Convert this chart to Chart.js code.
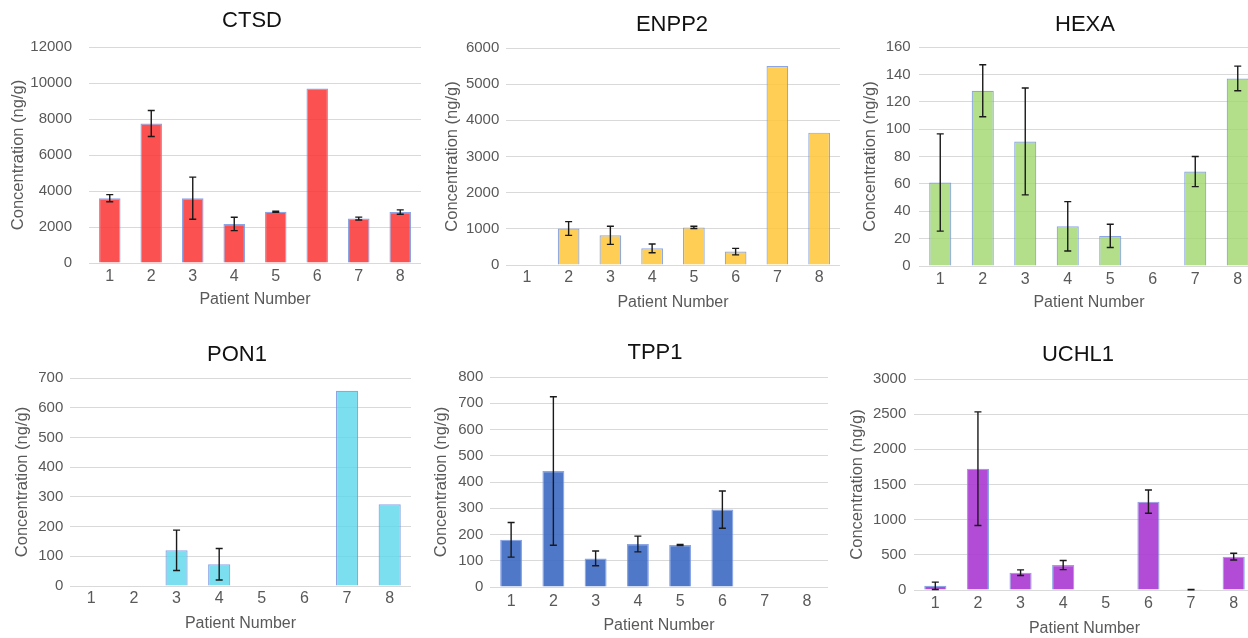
<!DOCTYPE html>
<html>
<head>
<meta charset="utf-8">
<title>Protein concentration by patient</title>
<script src="https://cdn.jsdelivr.net/npm/chart.js@4.4.1/dist/chart.umd.min.js"></script>
<style>
  html, body { margin: 0; padding: 0; background: #fff; }
  body { width: 1248px; height: 638px; position: relative; overflow: hidden; }
  canvas { position: absolute; }
</style>
</head>
<body>
<canvas id="ctsd"></canvas>
<canvas id="enpp2"></canvas>
<canvas id="hexa"></canvas>
<canvas id="pon1"></canvas>
<canvas id="tpp1"></canvas>
<canvas id="uchl1"></canvas>
<script>
'use strict';

// ***** DATA *****
let patients = ['1', '2', '3', '4', '5', '6', '7', '8'];

let ctsdValues = [3600, 7750, 3600, 2170, 2850, 9700, 2470, 2830];
let ctsdErrors = [200, 720, 1170, 370, 30, 0, 80, 120];

let enpp2Values = [null, 1010, 820, 460, 1040, 370, 5500, 3660];
let enpp2Errors = [0, 190, 250, 120, 30, 90, 0, 0];

let hexaValues = [61, 128, 91, 29, 22, null, 69, 137];
let hexaErrors = [35.5, 19, 39, 18, 8.5, 0, 11, 9];

let pon1Values = [null, null, 120, 73, null, null, 657, 275];
let pon1Errors = [0, 0, 68, 53, 0, 0, 0, 0];

let tpp1Values = [180, 442, 109, 164, 160, 295, null, null];
let tpp1Errors = [66, 283, 28, 30, 2, 71, 0, 0];

let uchl1Values = [60, 1725, 246, 355, null, 1256, 5, 474];
let uchl1Errors = [52, 808, 40, 65, 0, 165, 3, 48];

// y axis ranges: [max, step]
let ctsdAxis = [12000, 2000];
let enpp2Axis = [6000, 1000];
let hexaAxis = [160, 20];
let pon1Axis = [700, 100];
let tpp1Axis = [800, 100];
let uchl1Axis = [3000, 500];

// ***** PANEL LAYOUT (page pixels) *****
let layouts = {
  ctsd:  { left: 0,   top: 0,   right: 421,  bottom: 320, plotLeft: 89,  plotTop: 47,  plotBottom: 263, yTitleX: 18.5,  xTitleY: 300,   titleX: 252,  titleY: 21,  yGap: 17,  xTickY: 276.7 },
  enpp2: { left: 430, top: 0,   right: 840,  bottom: 320, plotLeft: 506, plotTop: 48,  plotBottom: 265, yTitleX: 452.8, xTitleY: 302.3, titleX: 672,  titleY: 25,  yGap: 6.7, xTickY: 277.3 },
  hexa:  { left: 845, top: 0,   right: 1259, bottom: 320, plotLeft: 919, plotTop: 47,  plotBottom: 266, yTitleX: 870.8, xTitleY: 302.3, titleX: 1085, titleY: 25,  yGap: 8.3, xTickY: 280 },
  pon1:  { left: 0,   top: 320, right: 411,  bottom: 640, plotLeft: 70,  plotTop: 378, plotBottom: 586, yTitleX: 22.5,  xTitleY: 624,   titleX: 237,  titleY: 355, yGap: 6.7, xTickY: 598.3 },
  tpp1:  { left: 425, top: 320, right: 828,  bottom: 640, plotLeft: 490, plotTop: 377, plotBottom: 587, yTitleX: 441.3, xTitleY: 626,   titleX: 655,  titleY: 353, yGap: 6.7, xTickY: 601.7 },
  uchl1: { left: 840, top: 320, right: 1255, bottom: 640, plotLeft: 914, plotTop: 379, plotBottom: 590, yTitleX: 857.8, xTitleY: 628.3, titleX: 1078, titleY: 355, yGap: 7.7, xTickY: 604 }
};

Chart.defaults.font.family = '"Liberation Sans", Arial, sans-serif';
Chart.defaults.color = '#595959';

// **** PLUGINS ****
let errorBarPlugin = {
  id: 'errorBars',
  afterDatasetsDraw(chart) {
    let dataset = chart.data.datasets[0];
    let meta = chart.getDatasetMeta(0);
    let yScale = chart.scales.y;
    let c = chart.ctx;
    c.save();
    c.strokeStyle = '#1a1a1a';
    c.lineWidth = 1.4;
    for (let i = 0; i < dataset.data.length; i++) {
      let v = dataset.data[i];
      let e = dataset.errors[i];
      if (v === null || !e) continue;
      let x = meta.data[i].x;
      let yHi = yScale.getPixelForValue(v + e);
      let yLo = yScale.getPixelForValue(Math.max(v - e, 0));
      c.beginPath();
      c.moveTo(x, yHi); c.lineTo(x, yLo);
      c.moveTo(x - 3.5, yHi); c.lineTo(x + 3.5, yHi);
      c.moveTo(x - 3.5, yLo); c.lineTo(x + 3.5, yLo);
      c.stroke();
    }
    c.restore();
  }
};

let panelTitlePlugin = {
  id: 'panelTitle',
  afterDraw(chart, args, opts) {
    let c = chart.ctx;
    c.save();
    c.fillStyle = '#111';
    c.font = '22px "Liberation Sans", Arial, sans-serif';
    c.textAlign = 'center';
    c.textBaseline = 'middle';
    c.fillText(opts.text, opts.x, opts.y);
    c.restore();
  }
};

// **** BUILDER ****
function buildPanel(id, name, values, errors, fill, axis) {
  let g = layouts[id];
  let canvas = document.getElementById(id);
  canvas.width = g.right - g.left;
  canvas.height = g.bottom - g.top;
  canvas.style.left = g.left + 'px';
  canvas.style.top = g.top + 'px';

  new Chart(canvas, {
    type: 'bar',
    data: {
      labels: patients,
      datasets: [{
        data: values,
        errors: errors,
        backgroundColor: fill,
        borderColor: 'rgba(120,150,225,0.85)',
        borderWidth: 1.2,
        barPercentage: 0.52,
        categoryPercentage: 1
      }]
    },
    options: {
      responsive: false,
      animation: false,
      layout: { padding: { left: 0, right: 0, top: g.plotTop - g.top, bottom: 0 } },
      plugins: {
        legend: { display: false },
        tooltip: { enabled: false },
        panelTitle: { text: name, x: g.titleX - g.left, y: g.titleY - g.top }
      },
      scales: {
        x: {
          grid: { display: false, drawTicks: false },
          border: { display: false },
          ticks: { font: { size: 16 }, padding: g.xTickY - g.plotBottom - 9.6 },
          title: { display: true, text: 'Patient Number', font: { size: 16 }, padding: { top: 0, bottom: g.bottom - g.xTitleY - 9.6 } },
          afterFit(scale) { scale.height = g.bottom - g.plotBottom; }
        },
        y: {
          min: 0,
          max: axis[0],
          grid: { color: '#d9d9d9', lineWidth: 1, drawTicks: false },
          border: { display: false },
          ticks: { stepSize: axis[1], font: { size: 15 }, padding: g.yGap, callback: (v) => String(v) },
          title: { display: true, text: 'Concentration (ng/g)', font: { size: 16.5 }, padding: { top: g.yTitleX - g.left - 9.9, bottom: 0 } },
          afterFit(scale) { scale.width = g.plotLeft - g.left; }
        }
      }
    },
    plugins: [errorBarPlugin, panelTitlePlugin]
  });
}

// **** EXECUTABLE CODE ****
buildPanel('ctsd', 'CTSD', ctsdValues, ctsdErrors, 'rgba(250,50,50,0.85)', ctsdAxis);
buildPanel('enpp2', 'ENPP2', enpp2Values, enpp2Errors, 'rgba(255,200,60,0.87)', enpp2Axis);
buildPanel('hexa', 'HEXA', hexaValues, hexaErrors, 'rgba(160,215,110,0.8)', hexaAxis);
buildPanel('pon1', 'PON1', pon1Values, pon1Errors, 'rgba(90,215,235,0.8)', pon1Axis);
buildPanel('tpp1', 'TPP1', tpp1Values, tpp1Errors, 'rgba(60,105,195,0.9)', tpp1Axis);
buildPanel('uchl1', 'UCHL1', uchl1Values, uchl1Errors, 'rgba(170,55,210,0.9)', uchl1Axis);
</script>
</body>
</html>
